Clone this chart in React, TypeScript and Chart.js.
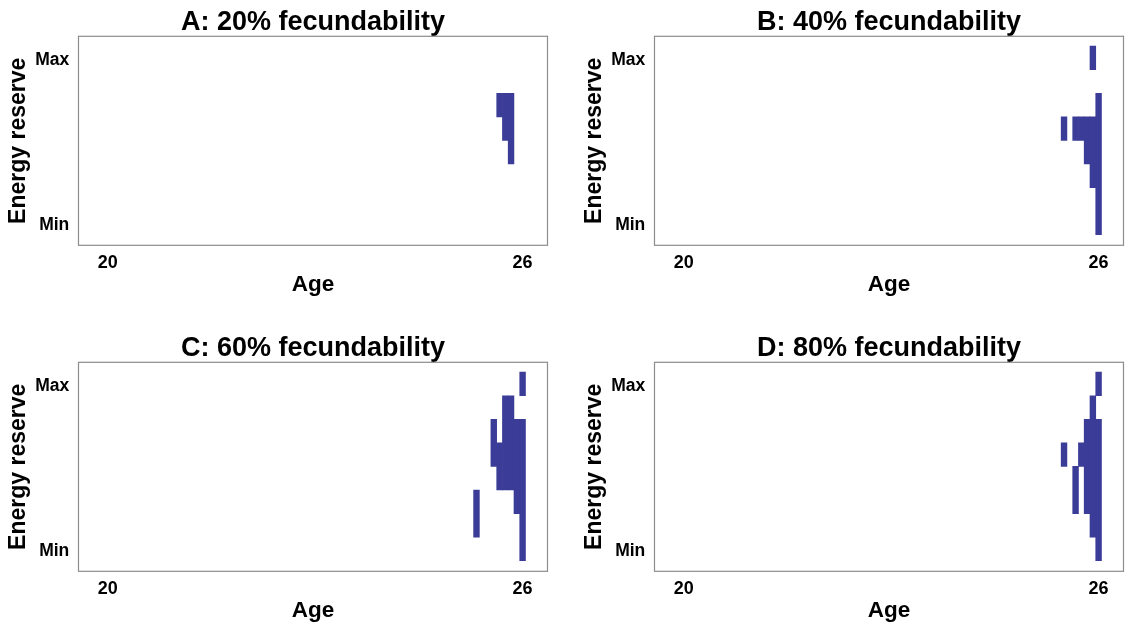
import React, { useEffect, useRef } from 'react';
import { Chart, registerables } from 'chart.js';

Chart.register(...registerables);

// ---------- data ----------
const PANEL_TITLES = [
  'A: 20% fecundability',
  'B: 40% fecundability',
  'C: 60% fecundability',
  'D: 80% fecundability',
];
const X_LABEL = 'Age';
const Y_LABEL = 'Energy reserve';
const X_TICKS = [20, 26];
const Y_TICK_VALUES = [0.9, 7.9];
const Y_TICK_LABELS = ['Min', 'Max'];
const X_RANGE = [19.577, 26.36];
const Y_RANGE = [0.05, 8.92];

// each entry: age column (monthly), lowest and highest energy level of a filled run
const A_AGE = [25.667, 25.75, 25.833];
const A_LOW = [6, 5, 4];
const A_HIGH = [6, 6, 6];

const B_AGE = [25.5, 25.667, 25.75, 25.833, 25.917, 25.917, 26.0];
const B_LOW = [5, 5, 5, 4, 3, 8, 1];
const B_HIGH = [5, 5, 5, 5, 5, 8, 6];

const C_AGE = [25.333, 25.583, 25.667, 25.75, 25.833, 25.917, 26.0, 26.0];
const C_LOW = [2, 5, 4, 4, 4, 3, 1, 8];
const C_HIGH = [3, 6, 5, 7, 7, 6, 6, 8];

const D_AGE = [25.5, 25.667, 25.75, 25.833, 25.917, 26.0, 26.0];
const D_LOW = [5, 3, 5, 3, 2, 1, 8];
const D_HIGH = [5, 4, 5, 6, 7, 6, 8];

// ---------- styling ----------
const CELL_COLOR = '#3a3c97';
const FONT_FAMILY = "'Liberation Sans', Arial, Helvetica, sans-serif";
const CANVAS_W = 549;
const CANVAS_H = 300;

const framePlugin = {
  id: 'frame',
  afterDatasetsDraw(chart: any) {
    const { ctx, chartArea } = chart;
    const { left, top, right, bottom } = chartArea;
    ctx.save();
    ctx.strokeStyle = '#8c8c8c';
    ctx.lineWidth = 1.2;
    ctx.strokeRect(left, top, right - left, bottom - top);
    ctx.restore();
  },
};

type PanelProps = {
  title: string;
  ages: number[];
  lows: number[];
  highs: number[];
  left: number;
  top: number;
};

function Panel({ title, ages, lows, highs, left, top }: PanelProps) {
  const ref = useRef<HTMLCanvasElement | null>(null);

  useEffect(() => {
    if (!ref.current) return;
    const data = ages.map((a, i) => ({ x: a, y: [lows[i] - 0.5, highs[i] + 0.5] }));
    const chart = new Chart(ref.current, {
      type: 'bar',
      data: {
        datasets: [
          {
            data: data as any,
            backgroundColor: CELL_COLOR,
            borderWidth: 0,
            barPercentage: 1,
            categoryPercentage: 1,
          },
        ],
      },
      options: {
        responsive: false,
        animation: false,
        devicePixelRatio: 1,
        layout: { padding: { left: 0, top: 0, right: 1.5, bottom: 0 } },
        plugins: {
          legend: { display: false },
          tooltip: { enabled: false },
          title: {
            display: true,
            text: title,
            fullSize: false,
            color: '#000',
            font: { family: FONT_FAMILY, size: 27, weight: 'bold', lineHeight: 1 },
            padding: { top: 8.8, bottom: 0.5 },
          },
        },
        scales: {
          x: {
            type: 'linear',
            min: X_RANGE[0],
            max: X_RANGE[1],
            offset: false,
            grid: { display: false, drawTicks: false },
            border: { display: false },
            afterBuildTicks: (s: any) => {
              s.ticks = X_TICKS.map((v) => ({ value: v }));
            },
            afterFit: (s: any) => {
              s.height = 54.7;
            },
            ticks: {
              color: '#000',
              padding: 6.9,
              maxRotation: 0,
              autoSkip: false,
              font: { family: FONT_FAMILY, size: 18, weight: 'bold' },
              callback: (v: any) => String(v),
            },
            title: {
              display: true,
              text: X_LABEL,
              color: '#000',
              font: { family: FONT_FAMILY, size: 22.5, weight: 'bold', lineHeight: 1.2 },
              padding: { top: 0, bottom: 1.5 },
            },
          },
          y: {
            type: 'linear',
            min: Y_RANGE[0],
            max: Y_RANGE[1],
            grid: { display: false, drawTicks: false },
            border: { display: false },
            afterBuildTicks: (s: any) => {
              s.ticks = Y_TICK_VALUES.map((v) => ({ value: v }));
            },
            afterFit: (s: any) => {
              s.width = 78.5;
            },
            ticks: {
              color: '#000',
              padding: 9.2,
              autoSkip: false,
              font: { family: FONT_FAMILY, size: 17.5, weight: 'bold' },
              callback: (v: any) => {
                const idx = Y_TICK_VALUES.indexOf(Number(v));
                return idx >= 0 ? Y_TICK_LABELS[idx] : '';
              },
            },
            title: {
              display: true,
              text: Y_LABEL,
              color: '#000',
              font: { family: FONT_FAMILY, size: 23, weight: 'bold', lineHeight: 1.2 },
              padding: { top: 4.9, bottom: 0 },
            },
          },
        },
      } as any,
      plugins: [framePlugin],
    });
    return () => chart.destroy();
  }, [title, ages, lows, highs]);

  return (
    <canvas
      ref={ref}
      width={CANVAS_W}
      height={CANVAS_H}
      style={{ position: 'absolute', left, top, width: CANVAS_W, height: CANVAS_H }}
    />
  );
}

export default function App() {
  return (
    <div
      style={{
        position: 'absolute',
        left: 0,
        top: 0,
        width: 1125,
        height: 626,
        overflow: 'hidden',
        background: '#fff',
      }}
    >
      <Panel title={PANEL_TITLES[0]} ages={A_AGE} lows={A_LOW} highs={A_HIGH} left={0} top={0} />
      <Panel title={PANEL_TITLES[1]} ages={B_AGE} lows={B_LOW} highs={B_HIGH} left={576} top={0} />
      <Panel title={PANEL_TITLES[2]} ages={C_AGE} lows={C_LOW} highs={C_HIGH} left={0} top={326} />
      <Panel title={PANEL_TITLES[3]} ages={D_AGE} lows={D_LOW} highs={D_HIGH} left={576} top={326} />
    </div>
  );
}
